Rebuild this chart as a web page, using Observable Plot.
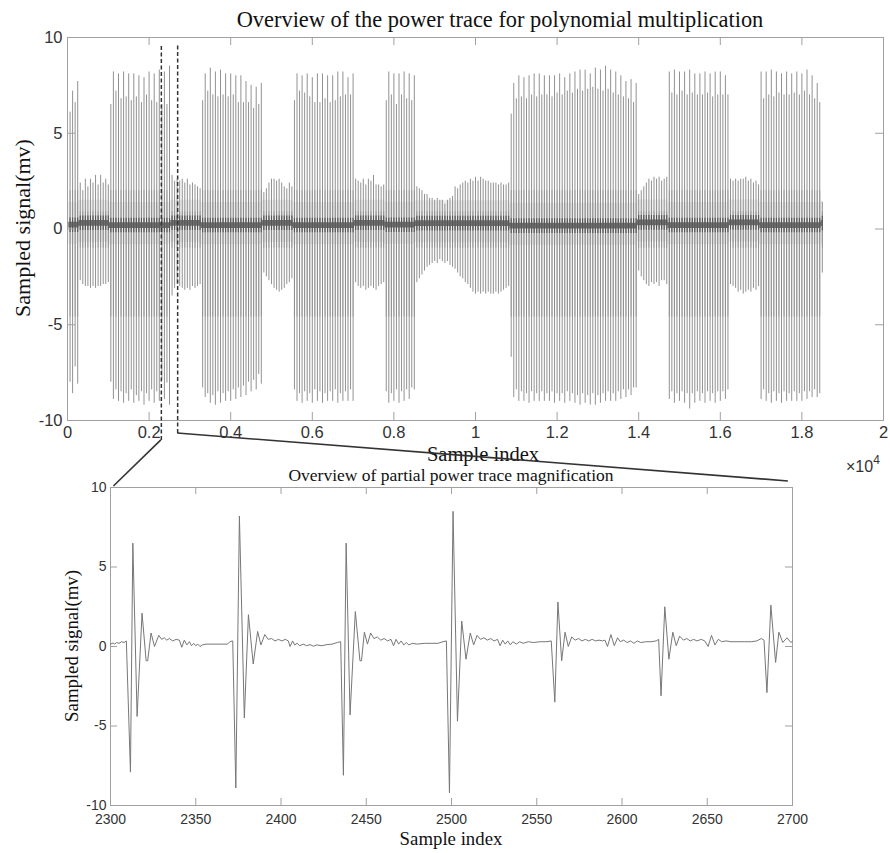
<!DOCTYPE html>
<html><head><meta charset="utf-8">
<script src="https://cdn.jsdelivr.net/npm/d3@7"></script>
<script src="https://cdn.jsdelivr.net/npm/@observablehq/plot@0.6"></script>
<style>
body{margin:0;background:#fff;}
#wrap{position:relative;width:890px;height:853px;overflow:hidden;background:#fff;}
.lbl{position:absolute;font-family:"Liberation Serif","DejaVu Serif",serif;color:#111;white-space:nowrap;line-height:1;transform:translate(-50%,-50%);}
.sans{position:absolute;font-family:"Liberation Sans",Arial,sans-serif;color:#333;white-space:nowrap;line-height:1;}
</style></head><body><div id="wrap"></div>
<script>
// ---------- overview trace: one spike every `spikePeriod` samples ----------
const spikePeriod = 62.5;
const segKind = ["burst","low","burst","low","burst","low","burst","low","burst","low","burst","low","burst","low","burst","low"];
const segBase = [0.2,0.3,0.18,0.3,0.18,0.3,0.18,0.3,0.2,0.28,0.15,0.32,0.18,0.32,0.18,0.28];
const burst0Hi = [6.1,7.2,6.6,7.7];
const burst0Lo = [-8.0,-8.6,-7.2,-8.1];
const low1Hi = [2.4,2.0,2.6,2.2,2.6,2.4,2.8,2.3,2.8,2.4,2.6,2.3];
const low1Lo = [-2.7,-2.9,-3.0,-3.0,-3.1,-3.0,-3.1,-3.0,-3.0,-2.9,-2.9,-2.8];
const burst1Hi = [6.5,8.2,7.2,8.1,6.8,8.2,6.9,8.1,6.7,8.1,6.9,8.0,6.6,7.9,7.0,8.2,6.7,8.1,6.6,8.3,6.5,8.2,6.5,8.5];
const burst1Lo = [-8.0,-8.9,-8.4,-9.0,-8.5,-9.1,-8.6,-9.0,-8.4,-9.1,-8.7,-9.0,-8.5,-9.2,-8.6,-9.0,-8.4,-9.1,-8.5,-9.0,-7.9,-8.9,-8.05,-9.2];
const low2Hi = [2.8,2.5,2.6,2.5,2.6,2.4,2.6,2.3,2.4,2.3,2.2,2.1];
const low2Lo = [-3.5,-3.1,-2.9,-3.0,-3.1,-3.2,-3.1,-3.2,-3.0,-3.1,-3.0,-2.9];
const burst2Hi = [6.7,8.1,7.2,8.4,7.0,8.2,6.9,8.3,7.0,8.1,6.9,8.1,7.0,8.0,6.6,8.0,6.6,7.7,6.6,7.5,6.3,7.4,6.5,7.6];
const burst2Lo = [-8.3,-8.8,-8.6,-9.1,-8.7,-9.2,-8.5,-9.1,-8.6,-9.0,-8.5,-9.0,-8.4,-8.9,-8.3,-8.8,-8.2,-8.7,-8.0,-8.5,-7.9,-8.4,-7.6,-8.1];
const low3Hi = [1.9,2.1,2.4,2.6,2.6,2.5,2.6,2.4,2.2,2.1,2.4,2.2];
const low3Lo = [-2.3,-2.5,-2.7,-2.9,-3.1,-3.2,-3.3,-3.2,-3.1,-2.9,-2.8,-2.6];
const burst3Hi = [6.7,8.1,7.2,8.0,7.1,8.1,6.9,7.9,6.6,8.1,6.6,8.1,6.8,8.0,6.6,8.0,6.7,8.2,6.9,8.2,7.0,7.9,7.0,8.1];
const burst3Lo = [-8.4,-9.0,-8.6,-9.1,-8.5,-9.0,-8.6,-9.1,-8.4,-9.0,-8.5,-9.1,-8.6,-9.0,-8.5,-9.0,-8.4,-9.1,-8.6,-9.0,-8.5,-9.0,-8.4,-9.0];
const low4Hi = [2.6,2.5,2.4,2.6,2.3,2.6,2.5,2.8,2.3,2.3,2.2,2.3];
const low4Lo = [-2.8,-3.0,-3.1,-3.0,-3.2,-3.1,-3.0,-3.1,-3.2,-3.0,-2.9,-2.8];
const burst4Hi = [6.7,8.2,7.0,8.1,6.5,8.1,7.0,8.2,6.8,8.1,6.7,8.0];
const burst4Lo = [-8.5,-9.1,-8.6,-9.0,-8.4,-9.1,-8.5,-9.0,-8.4,-8.9,-8.3,-8.4];
const low5Hi = [2.2,2.1,2.0,1.8,1.8,1.6,1.6,1.5,1.6,1.5,1.5,1.3,1.5,1.6,1.7,2.2,2.1,2.3,2.4,2.5,2.4,2.6,2.5,2.7,2.5,2.7,2.6,2.5,2.5,2.4,2.4,2.4,2.3,2.4,2.3,2.3,2.4];
const low5Lo = [-2.8,-2.6,-2.4,-2.2,-2.0,-1.9,-1.8,-1.7,-1.8,-1.6,-1.7,-1.8,-1.7,-1.9,-2.0,-2.1,-2.3,-2.5,-2.6,-2.8,-2.9,-3.1,-3.3,-3.4,-3.3,-3.4,-3.3,-3.4,-3.3,-3.4,-3.4,-3.3,-3.4,-3.3,-3.2,-3.1,-3.0];
const burst5Hi = [6.0,7.6,6.8,8.0,6.9,7.9,6.8,8.0,7.0,8.1,6.9,8.1,7.0,8.0,7.0,8.0,6.9,8.0,7.1,8.1,7.0,7.9,7.2,8.1,7.1,8.2,7.3,8.3,7.2,8.3,7.3,8.1,7.4,8.4,7.3,8.3,7.2,8.5,7.3,8.3,7.1,8.2,7.0,8.0,6.9,7.7,6.8,7.8,6.6,7.6];
const burst5Lo = [-6.7,-8.8,-8.4,-9.0,-8.5,-9.0,-8.6,-9.1,-8.5,-9.0,-8.6,-9.0,-8.5,-9.0,-8.6,-9.0,-8.5,-9.1,-8.6,-9.0,-8.6,-9.1,-8.5,-9.0,-8.6,-9.1,-8.7,-9.2,-8.6,-9.1,-8.7,-9.2,-8.6,-9.2,-8.7,-9.1,-8.6,-9.0,-8.5,-9.0,-8.6,-9.0,-8.5,-8.9,-8.4,-8.8,-8.4,-8.7,-8.3,-8.3];
const low6Hi = [1.8,2.0,2.2,2.4,2.6,2.5,2.7,2.6,2.7,2.5,2.6,2.7];
const low6Lo = [-2.2,-2.5,-2.7,-2.9,-3.0,-2.8,-2.9,-2.8,-3.0,-2.7,-2.7,-2.9];
const burst6Hi = [8.2,7.1,8.3,7.0,8.2,7.2,8.2,7.0,8.3,7.1,8.1,7.0,8.1,7.0,8.2,7.1,8.1,6.9,8.2,7.0,8.2,7.0,8.0,7.0];
const burst6Lo = [-8.9,-8.5,-9.1,-8.6,-9.0,-8.5,-9.1,-8.6,-9.4,-8.6,-9.1,-8.5,-9.0,-8.6,-9.1,-8.5,-9.0,-8.6,-9.1,-8.5,-9.0,-8.5,-8.9,-8.4];
const low7Hi = [2.6,2.5,2.6,2.5,2.6,2.6,2.7,2.5,2.6,2.4,2.5,2.3];
const low7Lo = [-2.9,-3.0,-3.1,-3.3,-3.2,-3.4,-3.3,-3.2,-3.3,-3.1,-3.2,-3.0];
const burst7Hi = [8.2,6.8,8.2,7.0,8.3,6.9,8.2,7.1,8.1,7.0,8.2,7.0,8.1,7.1,8.2,7.0,8.1,7.2,8.3,7.0,8.0,6.8,7.6,6.6];
const burst7Lo = [-8.9,-8.4,-9.0,-8.6,-9.1,-8.5,-9.0,-8.6,-9.1,-8.5,-9.0,-8.6,-9.0,-8.5,-9.0,-8.6,-9.0,-8.5,-8.9,-8.5,-8.8,-8.4,-8.8,-8.6];
const tailHi = [1.4];
const tailLo = [-2.3];
const segHi = [burst0Hi,low1Hi,burst1Hi,low2Hi,burst2Hi,low3Hi,burst3Hi,low4Hi,burst4Hi,low5Hi,burst5Hi,low6Hi,burst6Hi,low7Hi,burst7Hi,tailHi];
const segLo = [burst0Lo,low1Lo,burst1Lo,low2Lo,burst2Lo,low3Lo,burst3Lo,low4Lo,burst4Lo,low5Lo,burst5Lo,low6Lo,burst6Lo,low7Lo,burst7Lo,tailLo];

const topXTicks = [0,2000,4000,6000,8000,10000,12000,14000,16000,18000,20000];
const topXTickLabels = ["0","0.2","0.4","0.6","0.8","1","1.2","1.4","1.6","1.8","2"];
const yTicks = [-10,-5,0,5,10];
const yTickLabels = ["-10","-5","0","5","10"];

// zoom window and its connectors
const zoomWindow = [2300, 2700];
const dashTop = 9.63;
const dashBottom = [-11.04, -10.68];
const connectorEnd = [[2302, 10.06], [2697.6, 10.38]];

// ---------- magnified trace (vertices) ----------
const zoomIndex = [2300,2301.5,2302.5,2303.5,2305,2306.5,2308,2309.3,
 2311.7,2313.1,2315.6,2318.5,2320.9,2321.8,2323.8,2325.8,2328.3,2330,2331.5,2333,2334.5,2336.5,2338.5,2340.4,2341.8,2343.3,2344.8,2346.3,2347.5,2348.8,2350,2351.2,2352.5,2354,2356,2368.6,2370,2371.7,
 2373.5,2375.6,2378.5,2380.9,2383.7,2386.3,2388.2,2390.5,2392.5,2394.5,2396.5,2398.5,2400.5,2402.5,2404.3,2405.3,2406.8,2408,2409.5,2411,2413,2415,2417,2419,2421,2424,2427,2430,2433,2435,
 2436.6,2438.2,2440.5,2443.6,2446.3,2447.2,2448.9,2450.7,2452.6,2454.5,2456.5,2458.5,2460.5,2462.5,2464.5,2466,2467.5,2469,2470.5,2472,2473.5,2475,2477,2480,2484,2488,2492,2495,2497,
 2498.8,2500.9,2503.5,2506,2508.5,2511,2513,2515,2517,2519,2521,2523,2525,2527,2528.5,2530,2531.5,2533,2534.5,2536,2538,2540,2542,2545,2548,2552,2556,2558.5,
 2560.6,2562.4,2564.6,2566.6,2568.5,2570.5,2572.5,2574.5,2576.5,2578.5,2580.5,2582.5,2584.5,2586.5,2588.5,2590,2591.5,2593.5,2595.5,2597.4,2599,2601,2603,2605,2607,2609,2611,2614,2617,2620,2621.5,
 2622.9,2625.1,2627.5,2629.8,2631.8,2633.8,2636,2638,2640,2642,2644,2646.5,2648.5,2650.5,2652.5,2654.5,2656.5,2658.5,2661,2664,2668,2672,2676,2679,2681.7,2683.3,
 2685,2687.3,2690.1,2692,2694.3,2696.8,2699,2700];
const zoomSignal = [0.15,0.22,0.15,0.25,0.2,0.3,0.25,0.35,
 -7.9,6.5,-4.4,2.1,-0.9,-0.9,0.85,0.0,0.7,0.45,0.55,0.4,0.5,0.35,0.45,0.4,-0.05,0.4,0.1,0.3,0.05,0.2,0.05,0.15,0.0,0.1,0.15,0.15,0.3,0.35,
 -8.9,8.2,-4.5,2.0,-1.1,0.95,0.1,0.75,0.45,0.5,0.35,0.45,0.35,0.45,0.35,0.0,0.35,0.1,0.2,0.05,0.15,0.05,0.12,0.02,0.1,0.05,0.12,0.15,0.25,0.3,
 -8.1,6.5,-4.3,2.2,-0.9,-0.9,0.9,0.15,0.85,0.5,0.6,0.4,0.5,0.35,0.45,0.05,0.45,0.15,0.35,0.1,0.25,0.1,0.2,0.15,0.2,0.2,0.2,0.3,0.35,
 -9.2,8.5,-4.7,1.6,-0.8,0.85,0.1,0.7,0.45,0.55,0.4,0.5,0.35,0.45,0.05,0.4,0.15,0.35,0.1,0.3,0.15,0.3,0.2,0.3,0.25,0.3,0.3,0.35,
 -3.5,2.8,-0.9,0.9,0.0,0.6,0.4,0.5,0.35,0.45,0.35,0.45,0.35,0.4,0.35,0.4,0.0,0.75,0.05,0.55,0.3,0.4,0.25,0.35,0.2,0.35,0.25,0.3,0.3,0.35,0.45,
 -3.1,2.5,-0.8,0.9,0.05,0.65,0.4,0.5,0.35,0.45,0.35,0.45,0.35,0.0,0.7,0.1,0.45,0.3,0.35,0.3,0.3,0.3,0.3,0.35,0.5,0.4,
 -2.9,2.6,-1.0,0.9,0.25,0.55,0.25,0.35];
const zoomXTicks = [2300,2350,2400,2450,2500,2550,2600,2650,2700];

// ---------- build ----------
const spikes = [], bands = [];
let k = 1;
segHi.forEach((hi, si) => {
  bands.push({x: Math.max(0, k * spikePeriod - spikePeriod / 2), base: segBase[si]});
  hi.forEach((h, i) => {
    spikes.push({x: k * spikePeriod, hi: h, lo: segLo[si][i], burst: segKind[si] === "burst", base: segBase[si]});
    k++;
  });
});
bands.push({x: (k - 1) * spikePeriod + 10, base: segBase[segBase.length - 1]});

const wrap = document.getElementById("wrap");
const GRAY = "#a0a0a0";
const fmtY = d => yTickLabels[yTicks.indexOf(d)];

const topPlot = Plot.plot({
  width: 890, height: 452,
  marginLeft: 67, marginRight: 7, marginTop: 37, marginBottom: 32,
  style: {fontFamily: "'Liberation Sans', Arial, sans-serif", fontSize: "16.5px", color: "#333", background: "transparent", overflow: "visible"},
  x: {domain: [0, 20000], ticks: topXTicks, tickFormat: d => topXTickLabels[topXTicks.indexOf(d)], tickSize: 0, tickPadding: 6, label: null},
  y: {domain: [-10, 10], ticks: yTicks, tickFormat: fmtY, tickSize: 0, tickPadding: 5, label: null},
  marks: [
    Plot.areaY(bands, {x: "x", y1: d => d.base - 1.0, y2: d => d.base + 1.2, curve: "step-after", fill: "#eeeeee"}),
    Plot.ruleX(spikes, {x: "x", y1: "lo", y2: "hi", stroke: "#929292", strokeWidth: 1}),
    Plot.ruleX(spikes, {x: "x", y1: d => d.burst ? -4.6 : -1.0, y2: d => d.burst ? 2.0 : 0.9, stroke: "#858585", strokeWidth: 1, strokeOpacity: 0.55}),
    Plot.areaY(bands, {x: "x", y1: d => d.base - 0.15, y2: d => d.base + 0.15, curve: "step-after", fill: "#707070"}),
    Plot.ruleX(spikes, {x: "x", y1: d => d.base - 0.38, y2: d => d.base + 0.38, stroke: "#555", strokeWidth: 1.1}),
    Plot.frame({stroke: GRAY}),
    Plot.ruleX(topXTicks, {x: d => d, y1: -10, y2: -9.58, stroke: GRAY}),
    Plot.ruleX(topXTicks, {x: d => d, y1: 10, y2: 9.58, stroke: GRAY}),
    Plot.ruleY(yTicks, {y: d => d, x1: 0, x2: 196, stroke: GRAY}),
    Plot.ruleY(yTicks, {y: d => d, x1: 20000, x2: 19804, stroke: GRAY}),
    Plot.ruleX(zoomWindow, {x: d => d, y1: (d, i) => dashBottom[i], y2: dashTop, stroke: "#333", strokeWidth: 1.5, strokeDasharray: "4,2.5"})
  ]
});
topPlot.style.position = "absolute"; topPlot.style.left = "0px"; topPlot.style.top = "0px";
wrap.appendChild(topPlot);

const BOT_TOP = 452;
const zoomPts = zoomIndex.map((x, i) => ({x, y: zoomSignal[i]}));
const botPlot = Plot.plot({
  width: 890, height: 853 - BOT_TOP,
  marginLeft: 110, marginRight: 98, marginTop: 487 - BOT_TOP, marginBottom: 853 - 805,
  style: {fontFamily: "'Liberation Sans', Arial, sans-serif", fontSize: "14px", color: "#333", background: "transparent", overflow: "visible"},
  x: {domain: [2300, 2700], ticks: zoomXTicks, tickFormat: d => String(d), tickSize: 0, tickPadding: 9, label: null},
  y: {domain: [-10, 10], ticks: yTicks, tickFormat: fmtY, tickSize: 0, tickPadding: 4, label: null},
  marks: [
    Plot.frame({stroke: GRAY}),
    Plot.ruleX(zoomXTicks, {x: d => d, y1: -10, y2: -9.56, stroke: GRAY}),
    Plot.ruleX(zoomXTicks, {x: d => d, y1: 10, y2: 9.56, stroke: GRAY}),
    Plot.ruleY(yTicks, {y: d => d, x1: 2300, x2: 2304.1, stroke: GRAY}),
    Plot.ruleY(yTicks, {y: d => d, x1: 2700, x2: 2695.9, stroke: GRAY}),
    Plot.line(zoomPts, {x: "x", y: "y", stroke: "#777", strokeWidth: 1})
  ]
});
botPlot.style.position = "absolute"; botPlot.style.left = "0px"; botPlot.style.top = BOT_TOP + "px";
wrap.appendChild(botPlot);

// ---------- text ----------
function addLabel(text, x, y, size, rotate) {
  const d = document.createElement("div");
  d.className = "lbl";
  d.textContent = text;
  d.style.left = x + "px"; d.style.top = y + "px"; d.style.fontSize = size + "px";
  if (rotate) d.style.transform = "translate(-50%,-50%) rotate(-90deg)";
  wrap.appendChild(d);
}
addLabel("Overview of the power trace for polynomial multiplication", 500, 20, 22.4);
addLabel("Sample index", 483, 454, 20.5);
addLabel("Sampled signal(mv)", 23, 228, 22, true);
addLabel("Overview of partial power trace magnification", 451, 475.5, 17.5);
addLabel("Sample index", 451, 839, 18.8);
addLabel("Sampled signal(mv)", 72, 646, 18.8, true);
const ex = document.createElement("div");
ex.className = "sans";
ex.style.left = "846px"; ex.style.top = "459px"; ex.style.fontSize = "16px";
ex.innerHTML = "×10<span style='font-size:12px;position:relative;top:-8px'>4</span>";
wrap.appendChild(ex);

// ---------- connectors between the two panels ----------
const tx = topPlot.scale("x"), ty = topPlot.scale("y");
const bx = botPlot.scale("x"), by = botPlot.scale("y");
const ov = d3.select(wrap).append("svg").attr("width", 890).attr("height", 853)
  .style("position", "absolute").style("left", 0).style("top", 0).style("pointer-events", "none");
zoomWindow.forEach((w, i) => {
  ov.append("line")
    .attr("x1", tx.apply(w)).attr("y1", ty.apply(dashBottom[i]))
    .attr("x2", bx.apply(connectorEnd[i][0])).attr("y2", BOT_TOP + by.apply(connectorEnd[i][1]))
    .attr("stroke", "#333").attr("stroke-width", 1.6);
});
</script></body></html>
